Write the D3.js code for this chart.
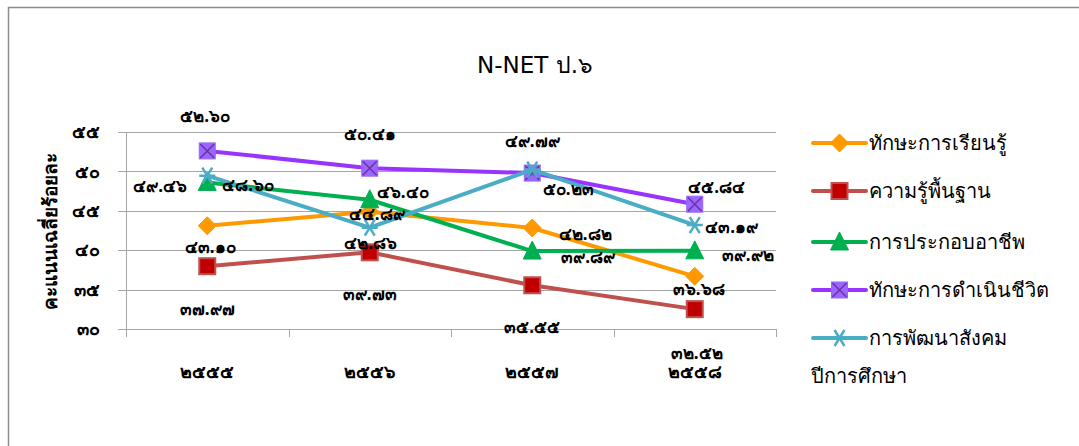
<!DOCTYPE html>
<html><head><meta charset="utf-8">
<script src="https://cdn.jsdelivr.net/npm/d3@7"></script>
<style>
body{margin:0;background:#fff;}
svg{display:block;font-family:"Noto Sans","DejaVu Sans",sans-serif;}
</style></head>
<body><svg id="c" width="1079" height="446"></svg>
<script>
const categories = ["๒๕๕๕","๒๕๕๖","๒๕๕๗","๒๕๕๘"];
const seriesNames = ["ทักษะการเรียนรู้","ความรู้พื้นฐาน","การประกอบอาชีพ","ทักษะการดำเนินชีวิต","การพัฒนาสังคม"];
const learning = [43.10, 44.89, 42.82, 36.68];
const basic = [37.97, 39.73, 35.55, 32.52];
const career = [48.60, 46.40, 39.89, 39.92];
const life = [52.60, 50.41, 49.79, 45.84];
const social = [49.46, 42.86, 50.23, 43.19];
const yTicks = [30, 35, 40, 45, 50, 55];
const yTickLabels = ["๓๐","๓๕","๔๐","๔๕","๕๐","๕๕"];
const labelTexts = [
  ["๔๓.๑๐","๔๔.๘๙","๔๒.๘๒","๓๖.๖๘"],
  ["๓๗.๙๗","๓๙.๗๓","๓๕.๕๕","๓๒.๕๒"],
  ["๔๘.๖๐","๔๖.๔๐","๓๙.๘๙","๓๙.๙๒"],
  ["๕๒.๖๐","๕๐.๔๑","๔๙.๗๙","๔๕.๘๔"],
  ["๔๙.๔๖","๔๒.๘๖","๕๐.๒๓","๔๓.๑๙"]
];
const title = "N-NET ป.๖";
const yTitle = "คะแนนเฉลี่ยร้อยละ";
const xTitle = "ปีการศึกษา";

const seriesValues = [learning, basic, career, life, social];
// styling (kept separate from data)
const styles = [
  {line:"#FF9900", fill:"#FF9900", stroke:"#FF9900", marker:"diamond"},
  {line:"#C0504D", fill:"#C00000", stroke:"#C0504D", marker:"square"},
  {line:"#00B050", fill:"#00B050", stroke:"#00B050", marker:"triangle"},
  {line:"#9933FF", fill:"#9966FF", stroke:"#9966FF", marker:"xsquare"},
  {line:"#4BACC6", fill:"#4BACC6", stroke:"#4BACC6", marker:"star"}
];
// label offsets relative to point (dx, dy)
const labelOffsets = [
  [[3,21],[7,2],[53,6],[4,13]],
  [[0,43],[0,42],[0,42],[2,44]],
  [[41,3],[33,-8],[56,6],[53,4]],
  [[-2,-35],[0,-34],[0,-32],[22,-17]],
  [[-47,10],[1,15],[36,19],[37,2]]
];

const svg = d3.select("#c");
// border
svg.append("rect").attr("x",8.5).attr("y",7.5).attr("width",1200).attr("height",600)
  .attr("fill","none").attr("stroke","#8c8c8c").attr("stroke-width",1.5);

const x = d3.scaleBand().domain(categories).range([126,776]);
const y = d3.scaleLinear().domain([30,55]).range([329,132]);

// gridlines
svg.append("g").selectAll("line").data(yTicks).join("line")
  .attr("x1",118).attr("x2",776).attr("y1",d=>Math.round(y(d))+0.5).attr("y2",d=>Math.round(y(d))+0.5)
  .attr("stroke","#a6a6a6").attr("stroke-width",1);
// y axis
const yAxis = d3.axisLeft(y).tickValues(yTicks).tickFormat((d,i)=>yTickLabels[i]).tickSize(0).tickPadding(26);
const yg = svg.append("g").attr("transform","translate(126,0)").call(yAxis);
yg.select(".domain").attr("stroke","#a6a6a6");
yg.selectAll("text").attr("font-size",18).attr("font-weight","bold").attr("fill","#000");
// x axis
const xAxis = d3.axisBottom(x).tickSize(0).tickPadding(36);
const xg = svg.append("g").attr("transform","translate(0,329.5)").call(xAxis);
xg.select(".domain").remove();
xg.append("line").attr("x1",126).attr("x2",776).attr("stroke","#a6a6a6");
xg.selectAll(".tick text").attr("font-size",18).attr("font-weight","bold").attr("fill","#000");
// category boundary ticks
svg.append("g").selectAll("line").data(categories.map(c=>x(c)).concat([776])).join("line")
  .attr("x1",d=>Math.round(d)+0.5).attr("x2",d=>Math.round(d)+0.5).attr("y1",329).attr("y2",337)
  .attr("stroke","#a6a6a6");

// title
svg.append("text").attr("x",535).attr("y",73).attr("text-anchor","middle")
  .attr("font-family","'DejaVu Sans',sans-serif")
  .attr("font-size",23).attr("fill","#000").text(title);
// y title
svg.append("text").attr("transform","translate(57,231) rotate(-90)").attr("text-anchor","middle")
  .attr("font-size",19).attr("font-weight","bold").attr("fill","#000").text(yTitle);

const cx = c => x(c) + x.bandwidth()/2;
const line = d3.line().x((d,i)=>cx(categories[i])).y(d=>y(d));

function drawMarker(g, type, s, px, py){
  if(type==="diamond"){
    g.append("path").attr("d",`M${px},${py-9}L${px+9},${py}L${px},${py+9}L${px-9},${py}Z`)
      .attr("fill",s.fill).attr("stroke",s.stroke);
  } else if(type==="square"){
    g.append("rect").attr("x",px-8).attr("y",py-8).attr("width",16).attr("height",16)
      .attr("fill",s.fill).attr("stroke",s.stroke).attr("stroke-width",2);
  } else if(type==="triangle"){
    g.append("path").attr("d",`M${px},${py-10}L${px+9},${py+8}L${px-9},${py+8}Z`)
      .attr("fill",s.fill).attr("stroke",s.stroke);
  } else if(type==="xsquare"){
    g.append("rect").attr("x",px-8).attr("y",py-8).attr("width",16).attr("height",16)
      .attr("fill",s.fill).attr("stroke",s.stroke);
    g.append("path").attr("d",`M${px-7},${py-7}L${px+7},${py+7}M${px+7},${py-7}L${px-7},${py+7}`)
      .attr("stroke","#7030A0").attr("stroke-width",1.5);
  } else if(type==="star"){
    g.append("path").attr("d",`M${px-8},${py}L${px+8},${py}M${px-5},${py-8}L${px+5},${py+8}M${px+5},${py-8}L${px-5},${py+8}`)
      .attr("stroke",s.stroke).attr("stroke-width",2.5);
  }
}

const plot = svg.append("g");
seriesValues.forEach((vals,si)=>{
  const s = styles[si];
  const g = plot.append("g");
  g.append("path").datum(vals).attr("d",line).attr("fill","none")
    .attr("stroke",s.line).attr("stroke-width",4).attr("stroke-linejoin","round");
  vals.forEach((v,i)=>drawMarker(g, s.marker, s, cx(categories[i]), y(v)));
});
// data labels
const lg = svg.append("g");
seriesValues.forEach((vals,si)=>{
  vals.forEach((v,i)=>{
    const o = labelOffsets[si][i];
    lg.append("text").attr("x",cx(categories[i])+o[0]).attr("y",y(v)+o[1]).attr("dy","0.35em")
      .attr("text-anchor","middle").attr("font-size",17).attr("font-weight","bold")
      .attr("fill","#000").text(labelTexts[si][i]);
  });
});

// legend
const legY = [143,191,242,290,338];
const leg = svg.append("g");
seriesNames.forEach((n,si)=>{
  const s = styles[si];
  const g = leg.append("g");
  g.append("line").attr("x1",813).attr("x2",866).attr("y1",legY[si]).attr("y2",legY[si])
    .attr("stroke",s.line).attr("stroke-width",4).attr("stroke-linecap","round");
  drawMarker(g, s.marker, s, 839.5, legY[si]);
  g.append("text").attr("x",869).attr("y",legY[si]).attr("dy","0.35em").attr("font-size",20)
    .attr("fill","#000").text(n);
});
svg.append("text").attr("x",811).attr("y",376).attr("dy","0.35em").attr("font-size",20)
  .attr("fill","#000").text(xTitle);
</script></body></html>
